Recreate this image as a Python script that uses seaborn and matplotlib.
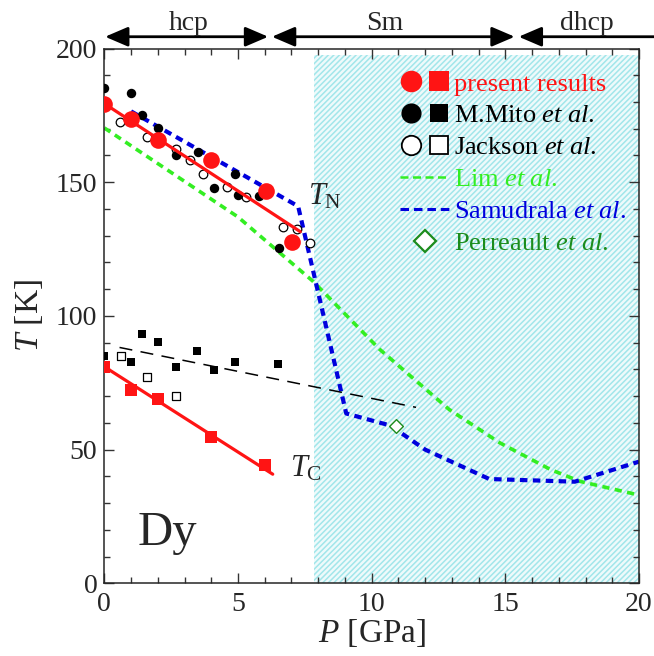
import numpy as np
import pandas as pd
import matplotlib
matplotlib.use("Agg")
import matplotlib.pyplot as plt
from matplotlib.lines import Line2D
from matplotlib.legend_handler import HandlerTuple
import seaborn as sns

# ---- data (P in GPa, T in K) ----
# present results
tn_present_p = [0, 1, 2, 4, 6.03, 7.02]
tn_present_t = [179.4, 173.6, 165.9, 158.2, 146.6, 127.7]
tn_fit_p = [0, 7.33]
tn_fit_t = [179.4, 131.5]
tc_present_p = [0, 1, 2, 4, 6]
tc_present_t = [81, 72.3, 68.9, 54.6, 44.2]
tc_fit_p = [0, 6.3]
tc_fit_t = [81, 40.8]

# M.Mito et al.
tn_mito_p = [0, 1.0, 1.4, 2.0, 2.69, 3.5, 4.1, 4.9, 5.0, 5.8, 6.52]
tn_mito_t = [185.4, 183.4, 175, 170.2, 160, 161.3, 148, 153, 145.2, 145, 125.4]
tc_mito_p = [0, 1.0, 1.4, 2.0, 2.7, 3.48, 4.1, 4.9, 6.5]
tc_mito_t = [85.1, 82.9, 93.1, 90.1, 81, 87, 79.8, 82.9, 81.9]
tc_guide_p = [0.57, 11.66]
tc_guide_t = [88.2, 65.8]

# Jackson et al.
tn_jackson_p = [0.6, 1.6, 2.7, 3.2, 3.7, 4.6, 5.3, 6.68, 7.2, 7.7]
tn_jackson_t = [172.4, 167, 162.4, 158.2, 153.2, 148.2, 144.5, 133.1, 132.5, 127.2]
tc_jackson_p = [0.62, 1.6, 2.7]
tc_jackson_t = [85.1, 77, 70]

# Lim et al. (green) and Samudrala et al. (blue)
lim_p = [0, 5, 7.8, 10.3, 12.9, 14.8, 16.7, 17.8, 20]
lim_t = [170.3, 137, 113, 87.5, 65, 52.5, 42.5, 38.1, 33]
samudrala_p = [1.0, 7.25, 9.05, 10.7, 12.0, 14.4, 17.6, 20]
samudrala_t = [176.5, 141, 63.5, 59, 50, 39, 38, 45.5]

# Perreault et al.
perreault_p = [10.9]
perreault_t = [58.8]

# shaded Sm region and phase arrows
shade_p = [7.83, 20]
shade_top = 197.5
phase_names = ["hcp", "Sm", "dhcp"]
phase_lo = [0.03, 6.27, 15.5]
phase_hi = [6.13, 15.35, 20.6]
phase_label_p = [3.14, 10.5, 18.05]

red = "#ff1414"
lime = "#33ee22"
blue = "#0000dd"
dgreen = "#1c8c1c"

sns.set_style("ticks")
plt.rcParams["font.family"] = ["Liberation Serif", "DejaVu Serif"]
plt.rcParams["mathtext.fontset"] = "custom"
plt.rcParams["mathtext.rm"] = "Liberation Serif"
plt.rcParams["mathtext.it"] = "Liberation Serif:italic"
plt.rcParams["mathtext.bf"] = "Liberation Serif:bold"
plt.rcParams["hatch.linewidth"] = 1.1

fig, ax = plt.subplots(figsize=(6.54, 6.56), dpi=100)
fig.subplots_adjust(left=104.3 / 654, right=639 / 654,
                    bottom=1 - 583.3 / 656, top=1 - 48.5 / 656)

# hatched Sm region
ax.fill_between(shade_p, 0, shade_top, facecolor="#eefafb",
                edgecolor="#a2e6ea", hatch="//////", linewidth=0, zorder=0)

# theory / guide lines
sns.lineplot(x=lim_p, y=lim_t, sort=False, estimator=None, color=lime,
             lw=2.6, linestyle=(0, (2.0, 1.5)), ax=ax, zorder=2)
sns.lineplot(x=samudrala_p, y=samudrala_t, sort=False, estimator=None,
             color=blue, lw=3.0, linestyle=(0, (1.8, 1.3)), ax=ax, zorder=2)
sns.lineplot(x=tc_guide_p, y=tc_guide_t, sort=False, estimator=None,
             color="black", lw=1.1, linestyle=(0, (8.5, 5.5)), ax=ax, zorder=2)

# Jackson (open)
sns.scatterplot(x=tn_jackson_p, y=tn_jackson_t, marker="o", s=6.2**2,
                facecolor="white", edgecolor="black", linewidth=0.9,
                ax=ax, zorder=3)
sns.scatterplot(x=tc_jackson_p, y=tc_jackson_t, marker="s", s=6**2,
                facecolor="white", edgecolor="black", linewidth=0.9,
                ax=ax, zorder=3)
# Mito (filled black)
sns.scatterplot(x=tn_mito_p, y=tn_mito_t, marker="o", s=6.8**2,
                color="black", linewidth=0, ax=ax, zorder=3)
sns.scatterplot(x=tc_mito_p, y=tc_mito_t, marker="s", s=6.2**2,
                color="black", linewidth=0, ax=ax, zorder=3)
# Perreault
sns.scatterplot(x=perreault_p, y=perreault_t, marker="D", s=7**2,
                facecolor="white", edgecolor=dgreen, linewidth=1.0,
                ax=ax, zorder=3)

# present results
sns.lineplot(x=tn_fit_p, y=tn_fit_t, sort=False, estimator=None, color=red,
             lw=2.3, ax=ax, zorder=4)
sns.lineplot(x=tc_fit_p, y=tc_fit_t, sort=False, estimator=None, color=red,
             lw=2.3, ax=ax, zorder=4)
sns.scatterplot(x=tn_present_p, y=tn_present_t, marker="o", s=12**2,
                color=red, linewidth=0, ax=ax, zorder=5)
sns.scatterplot(x=tc_present_p, y=tc_present_t, marker="s", s=9**2,
                color=red, linewidth=0, ax=ax, zorder=5)

# axes
ax.set_xlim(0, 20)
ax.set_ylim(0, 200)
ax.set_xticks([0, 5, 10, 15, 20])
ax.set_xticks(np.arange(0, 21, 1), minor=True)
ax.set_yticks([0, 50, 100, 150, 200])
ax.set_yticks(np.arange(0, 201, 10), minor=True)
ax.tick_params(which="both", direction="in", top=True, right=True,
               labelsize=20, width=1.0, color="#333333")
ax.tick_params(which="major", length=7)
ax.tick_params(which="minor", length=4)
ax.tick_params(axis="x", pad=6)
ax.tick_params(axis="y", pad=5)
for sp in ax.spines.values():
    sp.set_linewidth(1.1)
ax.set_xlabel("$P$ [GPa]", fontsize=24, labelpad=0)
ax.set_ylabel("$T$ [K]", fontsize=24, labelpad=8)

# phase arrows above the axes
for name, lo, hi, lp in zip(phase_names, phase_lo, phase_hi, phase_label_p):
    style = "<|-|>" if name != "dhcp" else "<|-"
    ax.annotate("", xy=(hi, 204.4), xytext=(lo, 204.4), xycoords="data",
                annotation_clip=False,
                arrowprops=dict(arrowstyle=style + ",head_length=0.7,head_width=0.3",
                                color="black", lw=2.0, shrinkA=0, shrinkB=0,
                                mutation_scale=20))
    ax.text(lp, 206.8, name, ha="center", va="baseline", fontsize=20,
            clip_on=False)

# annotations
ax.text(7.63, 141.8, r"$T_{\mathrm{N}}$", fontsize=22, va="baseline")
ax.text(6.96, 40, r"$T_{\mathrm{C}}$", fontsize=22, va="baseline")
ax.text(1.26, 14.3, "Dy", fontsize=35, va="baseline")

# legend
handles = [
    (Line2D([], [], marker="o", ms=15.5, color=red, ls="none", mew=0),
     Line2D([], [], marker="s", ms=14, color=red, ls="none", mew=0)),
    (Line2D([], [], marker="o", ms=14.5, color="black", ls="none", mew=0),
     Line2D([], [], marker="s", ms=13, color="black", ls="none", mew=0)),
    (Line2D([], [], marker="o", ms=14, mfc="white", mec="black", ls="none", mew=1.3),
     Line2D([], [], marker="s", ms=13, mfc="white", mec="black", ls="none", mew=1.3)),
    Line2D([], [], color=lime, lw=1.8, ls=(0, (3.2, 1.8))),
    Line2D([], [], color=blue, lw=2.2, ls=(0, (2.8, 1.6))),
    Line2D([], [], marker="D", ms=11, mfc="white", mec=dgreen, ls="none", mew=1.6),
]
labels = ["present results",
          r"M.Mito $\mathit{et\ al}$.",
          r"Jackson $\mathit{et\ al}$.",
          r"Lim $\mathit{et\ al}$.",
          r"Samudrala $\mathit{et\ al}$.",
          r"Perreault $\mathit{et\ al}$."]
label_colors = [red, "black", "black", lime, blue, dgreen]
leg = ax.legend(handles, labels, handler_map={tuple: HandlerTuple(ndivide=None, pad=0.25)},
                loc="upper left", bbox_to_anchor=(0.553, 0.956), frameon=False,
                fontsize=19, borderpad=0, borderaxespad=0, handlelength=1.9,
                handletextpad=0.15, labelspacing=0.32)
for txt, c in zip(leg.get_texts(), label_colors):
    txt.set_color(c)

fig.savefig("out.png", dpi=100)
